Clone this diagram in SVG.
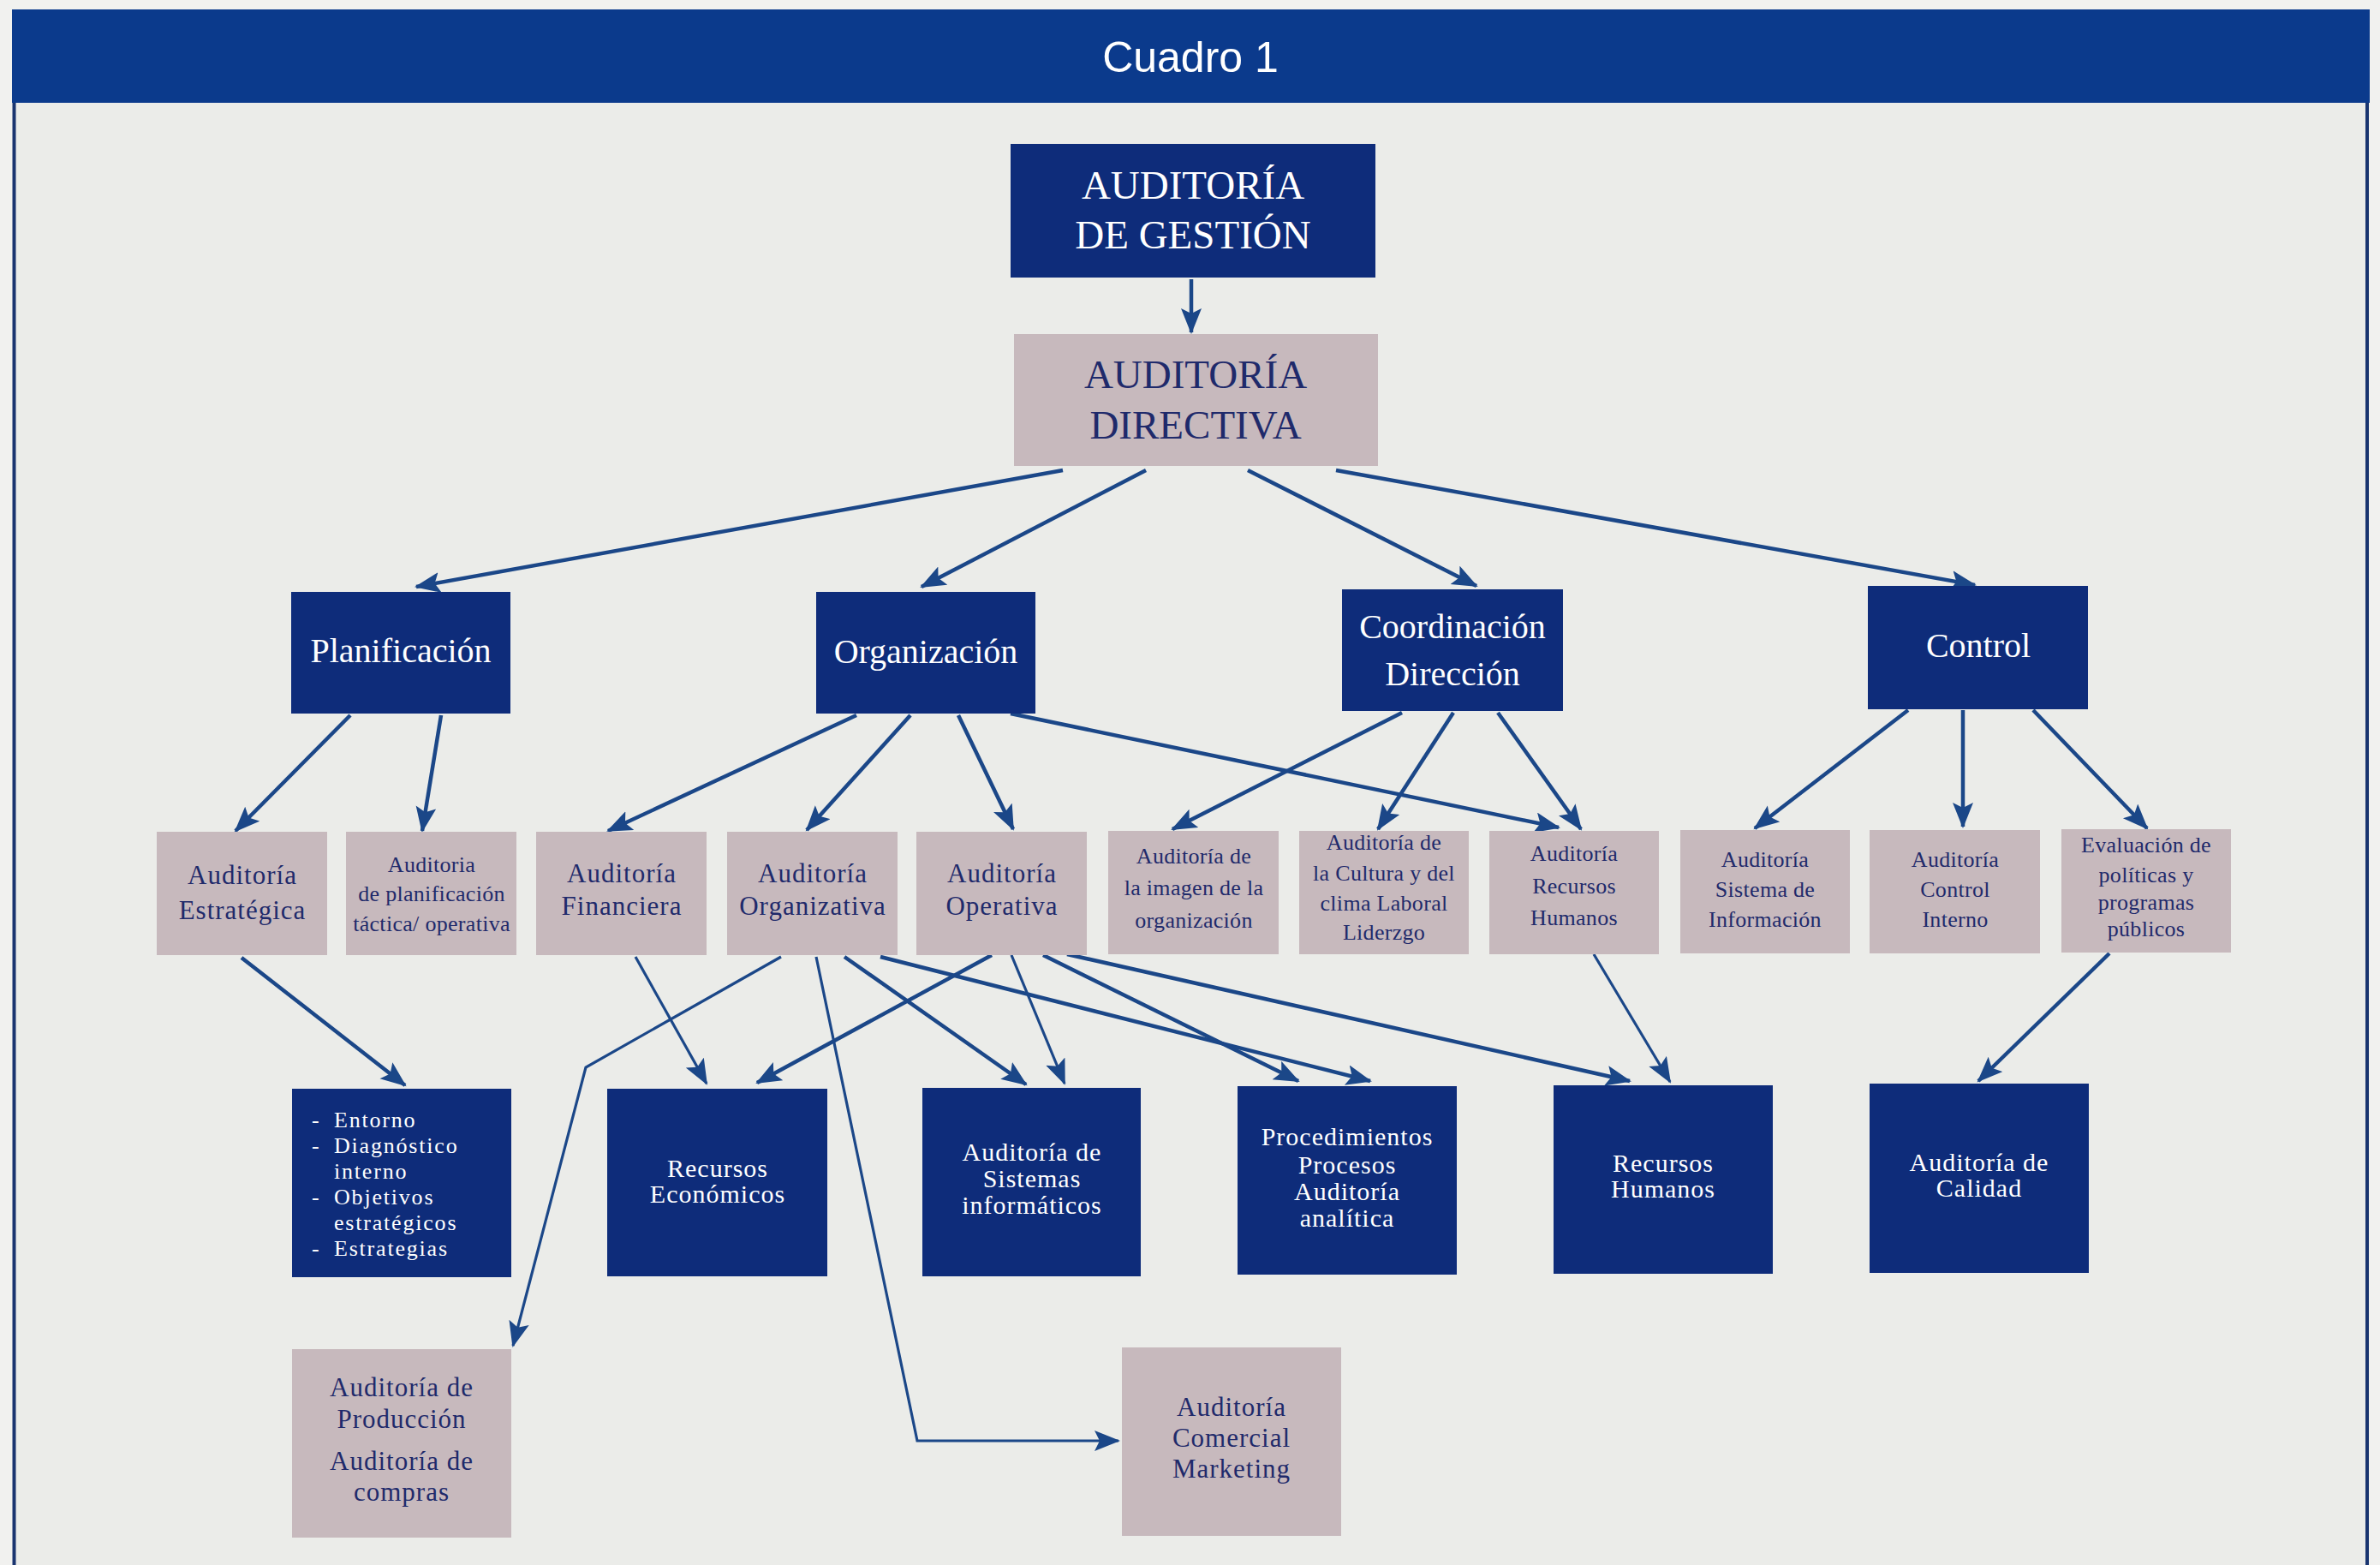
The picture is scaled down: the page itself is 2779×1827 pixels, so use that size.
<svg xmlns="http://www.w3.org/2000/svg" width="2779" height="1827" viewBox="0 0 2779 1827">
<style>
.dark{fill:#0e2c7a}
.pink{fill:#c7b9bd}
.tw{fill:#ffffff;font-family:"Liberation Serif","Times New Roman",serif;text-anchor:middle}
.tp{fill:#1f2a6b;font-family:"Liberation Serif","Times New Roman",serif;text-anchor:middle}
.big{font-size:47px}
.mid{font-size:40px}
.s31{font-size:31px;letter-spacing:1px}
.s26{font-size:26px;letter-spacing:0.3px}
.s30{font-size:30px;letter-spacing:1px}
.s26w{font-size:26px;letter-spacing:1.8px}
.left{text-anchor:start}
.con line,.con polyline{stroke:#1b4788;stroke-width:4.5;fill:none;marker-end:url(#ah)}
.con .thin{stroke-width:3.2}
</style>
<defs>
<marker id="ah" markerUnits="userSpaceOnUse" markerWidth="32" markerHeight="26" refX="28" refY="12" orient="auto">
<path d="M0,0 L30,12 L0,24 L6,12 z" fill="#1b4788"/>
</marker>
</defs>
<rect x="0" y="0" width="2779" height="1827" fill="#f1f1ef"/>
<rect x="16" y="112" width="2749" height="1715" fill="#ebece9"/>
<line x1="16.5" y1="112" x2="16.5" y2="1827" stroke="#1a3570" stroke-width="4"/>
<line x1="2764" y1="112" x2="2764" y2="1827" stroke="#1a3570" stroke-width="4"/>
<g id="header">
<rect x="14" y="11" width="2753" height="109" fill="#0b3a8c"/>
<text x="1390" y="84" fill="#ffffff" font-family="Liberation Sans, Arial, sans-serif" font-size="50" text-anchor="middle">Cuadro 1</text>
</g>
<g class="con" id="connectors">
<line x1="1391" y1="326" x2="1391" y2="388"/>
<line x1="1241" y1="549" x2="486" y2="685"/>
<line x1="1338" y1="549" x2="1076" y2="685"/>
<line x1="1457" y1="549" x2="1724" y2="684"/>
<line x1="1560" y1="549" x2="2306" y2="683"/>
<line x1="409" y1="835" x2="275" y2="970"/>
<line x1="515" y1="835" x2="493" y2="970"/>
<line x1="1000" y1="835" x2="710" y2="970"/>
<line x1="1063" y1="835" x2="942" y2="969"/>
<line x1="1119" y1="835" x2="1183" y2="968"/>
<line x1="1180" y1="833" x2="1820" y2="966"/>
<line x1="1637" y1="832" x2="1369" y2="968"/>
<line x1="1697" y1="832" x2="1609" y2="968"/>
<line x1="1749" y1="832" x2="1846" y2="968"/>
<line x1="2228" y1="829" x2="2049" y2="967"/>
<line x1="2292" y1="829" x2="2292" y2="965"/>
<line x1="2374" y1="829" x2="2507" y2="967"/>
<line x1="282" y1="1118" x2="473" y2="1267"/>
<line class="thin" x1="742" y1="1117" x2="825" y2="1265"/>
<line x1="1158" y1="1115" x2="884" y2="1264"/>
<polyline class="thin" points="912,1117 684,1246 599,1571"/>
<polyline class="thin" points="953,1117 1071,1682 1306,1682"/>
<line x1="986" y1="1117" x2="1198" y2="1266"/>
<line x1="1028" y1="1117" x2="1600" y2="1262"/>
<line class="thin" x1="1181" y1="1115" x2="1243" y2="1265"/>
<line x1="1218" y1="1115" x2="1516" y2="1262"/>
<line x1="1246" y1="1114" x2="1903" y2="1262"/>
<line class="thin" x1="1861" y1="1114" x2="1950" y2="1263"/>
<line x1="2463" y1="1113" x2="2310" y2="1262"/>
</g>
<g id="n-gestion">
<rect class="dark" x="1180" y="168" width="426" height="156"/>
<text class="tw big" x="1393" y="232">AUDITORÍA</text>
<text class="tw big" x="1393" y="290">DE GESTIÓN</text>
</g>
<g id="n-directiva">
<rect class="pink" x="1184" y="390" width="425" height="154"/>
<text class="tp big" x="1396" y="453">AUDITORÍA</text>
<text class="tp big" x="1396" y="512">DIRECTIVA</text>
</g>
<g id="n-planificacion">
<rect class="dark" x="340" y="691" width="256" height="142"/>
<text class="tw mid" x="468" y="773">Planificación</text>
</g>
<g id="n-organizacion">
<rect class="dark" x="953" y="691" width="256" height="142"/>
<text class="tw mid" x="1081" y="774">Organización</text>
</g>
<g id="n-coordinacion">
<rect class="dark" x="1567" y="688" width="258" height="142"/>
<text class="tw mid" x="1696" y="745">Coordinación</text>
<text class="tw mid" x="1696" y="800">Dirección</text>
</g>
<g id="n-control">
<rect class="dark" x="2181" y="684" width="257" height="144"/>
<text class="tw mid" x="2310" y="767">Control</text>
</g>
<g id="n-estrategica">
<rect class="pink" x="183" y="971" width="199" height="144"/>
<text class="tp s31" x="283" y="1032">Auditoría</text>
<text class="tp s31" x="283" y="1073">Estratégica</text>
</g>
<g id="n-tactica">
<rect class="pink" x="404" y="971" width="199" height="144"/>
<text class="tp s26" x="504" y="1018">Auditoria</text>
<text class="tp s26" x="504" y="1052">de  planificación</text>
<text class="tp s26" x="504" y="1087">táctica/ operativa</text>
</g>
<g id="n-financiera">
<rect class="pink" x="626" y="971" width="199" height="144"/>
<text class="tp s31" x="726" y="1030">Auditoría</text>
<text class="tp s31" x="726" y="1068">Financiera</text>
</g>
<g id="n-organizativa">
<rect class="pink" x="849" y="971" width="199" height="144"/>
<text class="tp s31" x="949" y="1030">Auditoría</text>
<text class="tp s31" x="949" y="1068">Organizativa</text>
</g>
<g id="n-operativa">
<rect class="pink" x="1070" y="971" width="199" height="144"/>
<text class="tp s31" x="1170" y="1030">Auditoría</text>
<text class="tp s31" x="1170" y="1068">Operativa</text>
</g>
<g id="n-imagen">
<rect class="pink" x="1294" y="970" width="199" height="144"/>
<text class="tp s26" x="1394" y="1008">Auditoría  de</text>
<text class="tp s26" x="1394" y="1045">la imagen de la</text>
<text class="tp s26" x="1394" y="1083">organización</text>
</g>
<g id="n-cultura">
<rect class="pink" x="1517" y="970" width="198" height="144"/>
<text class="tp s26" x="1616" y="992">Auditoría  de</text>
<text class="tp s26" x="1616" y="1028">la Cultura y del</text>
<text class="tp s26" x="1616" y="1063">clima Laboral</text>
<text class="tp s26" x="1616" y="1097">Liderzgo</text>
</g>
<g id="n-aud-rrhh">
<rect class="pink" x="1739" y="970" width="198" height="144"/>
<text class="tp s26" x="1838" y="1005">Auditoría</text>
<text class="tp s26" x="1838" y="1043">Recursos</text>
<text class="tp s26" x="1838" y="1080">Humanos</text>
</g>
<g id="n-sistema-info">
<rect class="pink" x="1962" y="969" width="198" height="144"/>
<text class="tp s26" x="2061" y="1012">Auditoría</text>
<text class="tp s26" x="2061" y="1047">Sistema de</text>
<text class="tp s26" x="2061" y="1082">Información</text>
</g>
<g id="n-control-interno">
<rect class="pink" x="2183" y="969" width="199" height="144"/>
<text class="tp s26" x="2283" y="1012">Auditoría</text>
<text class="tp s26" x="2283" y="1047">Control</text>
<text class="tp s26" x="2283" y="1082">Interno</text>
</g>
<g id="n-evaluacion">
<rect class="pink" x="2407" y="968" width="198" height="144"/>
<text class="tp s26" x="2506" y="995">Evaluación de</text>
<text class="tp s26" x="2506" y="1030">políticas y</text>
<text class="tp s26" x="2506" y="1062">programas</text>
<text class="tp s26" x="2506" y="1093">públicos</text>
</g>
<g id="n-entorno">
<rect class="dark" x="341" y="1271" width="256" height="220"/>
<text class="tw s26w left" x="364" y="1316">-</text>
<text class="tw s26w left" x="390" y="1316">Entorno</text>
<text class="tw s26w left" x="364" y="1346">-</text>
<text class="tw s26w left" x="390" y="1346">Diagnóstico</text>
<text class="tw s26w left" x="390" y="1376">interno</text>
<text class="tw s26w left" x="364" y="1406">-</text>
<text class="tw s26w left" x="390" y="1406">Objetivos</text>
<text class="tw s26w left" x="390" y="1436">estratégicos</text>
<text class="tw s26w left" x="364" y="1466">-</text>
<text class="tw s26w left" x="390" y="1466">Estrategias</text>
</g>
<g id="n-recursos-economicos">
<rect class="dark" x="709" y="1271" width="257" height="219"/>
<text class="tw s30" x="838" y="1374">Recursos</text>
<text class="tw s30" x="838" y="1404">Económicos</text>
</g>
<g id="n-sistemas-informaticos">
<rect class="dark" x="1077" y="1270" width="255" height="220"/>
<text class="tw s30" x="1205" y="1355">Auditoría de</text>
<text class="tw s30" x="1205" y="1386">Sistemas</text>
<text class="tw s30" x="1205" y="1417">informáticos</text>
</g>
<g id="n-procedimientos">
<rect class="dark" x="1445" y="1268" width="256" height="220"/>
<text class="tw s30" x="1573" y="1337">Procedimientos</text>
<text class="tw s30" x="1573" y="1370">Procesos</text>
<text class="tw s30" x="1573" y="1401">Auditoría</text>
<text class="tw s30" x="1573" y="1432">analítica</text>
</g>
<g id="n-recursos-humanos">
<rect class="dark" x="1814" y="1267" width="256" height="220"/>
<text class="tw s30" x="1942" y="1368">Recursos</text>
<text class="tw s30" x="1942" y="1398">Humanos</text>
</g>
<g id="n-calidad">
<rect class="dark" x="2183" y="1265" width="256" height="221"/>
<text class="tw s30" x="2311" y="1367">Auditoría de</text>
<text class="tw s30" x="2311" y="1397">Calidad</text>
</g>
<g id="n-produccion">
<rect class="pink" x="341" y="1575" width="256" height="220"/>
<text class="tp s31" x="469" y="1630">Auditoría de</text>
<text class="tp s31" x="469" y="1667">Producción</text>
<text class="tp s31" x="469" y="1716">Auditoría de</text>
<text class="tp s31" x="469" y="1752">compras</text>
</g>
<g id="n-comercial">
<rect class="pink" x="1310" y="1573" width="256" height="220"/>
<text class="tp s31" x="1438" y="1653">Auditoría</text>
<text class="tp s31" x="1438" y="1689">Comercial</text>
<text class="tp s31" x="1438" y="1725">Marketing</text>
</g>
</svg>
